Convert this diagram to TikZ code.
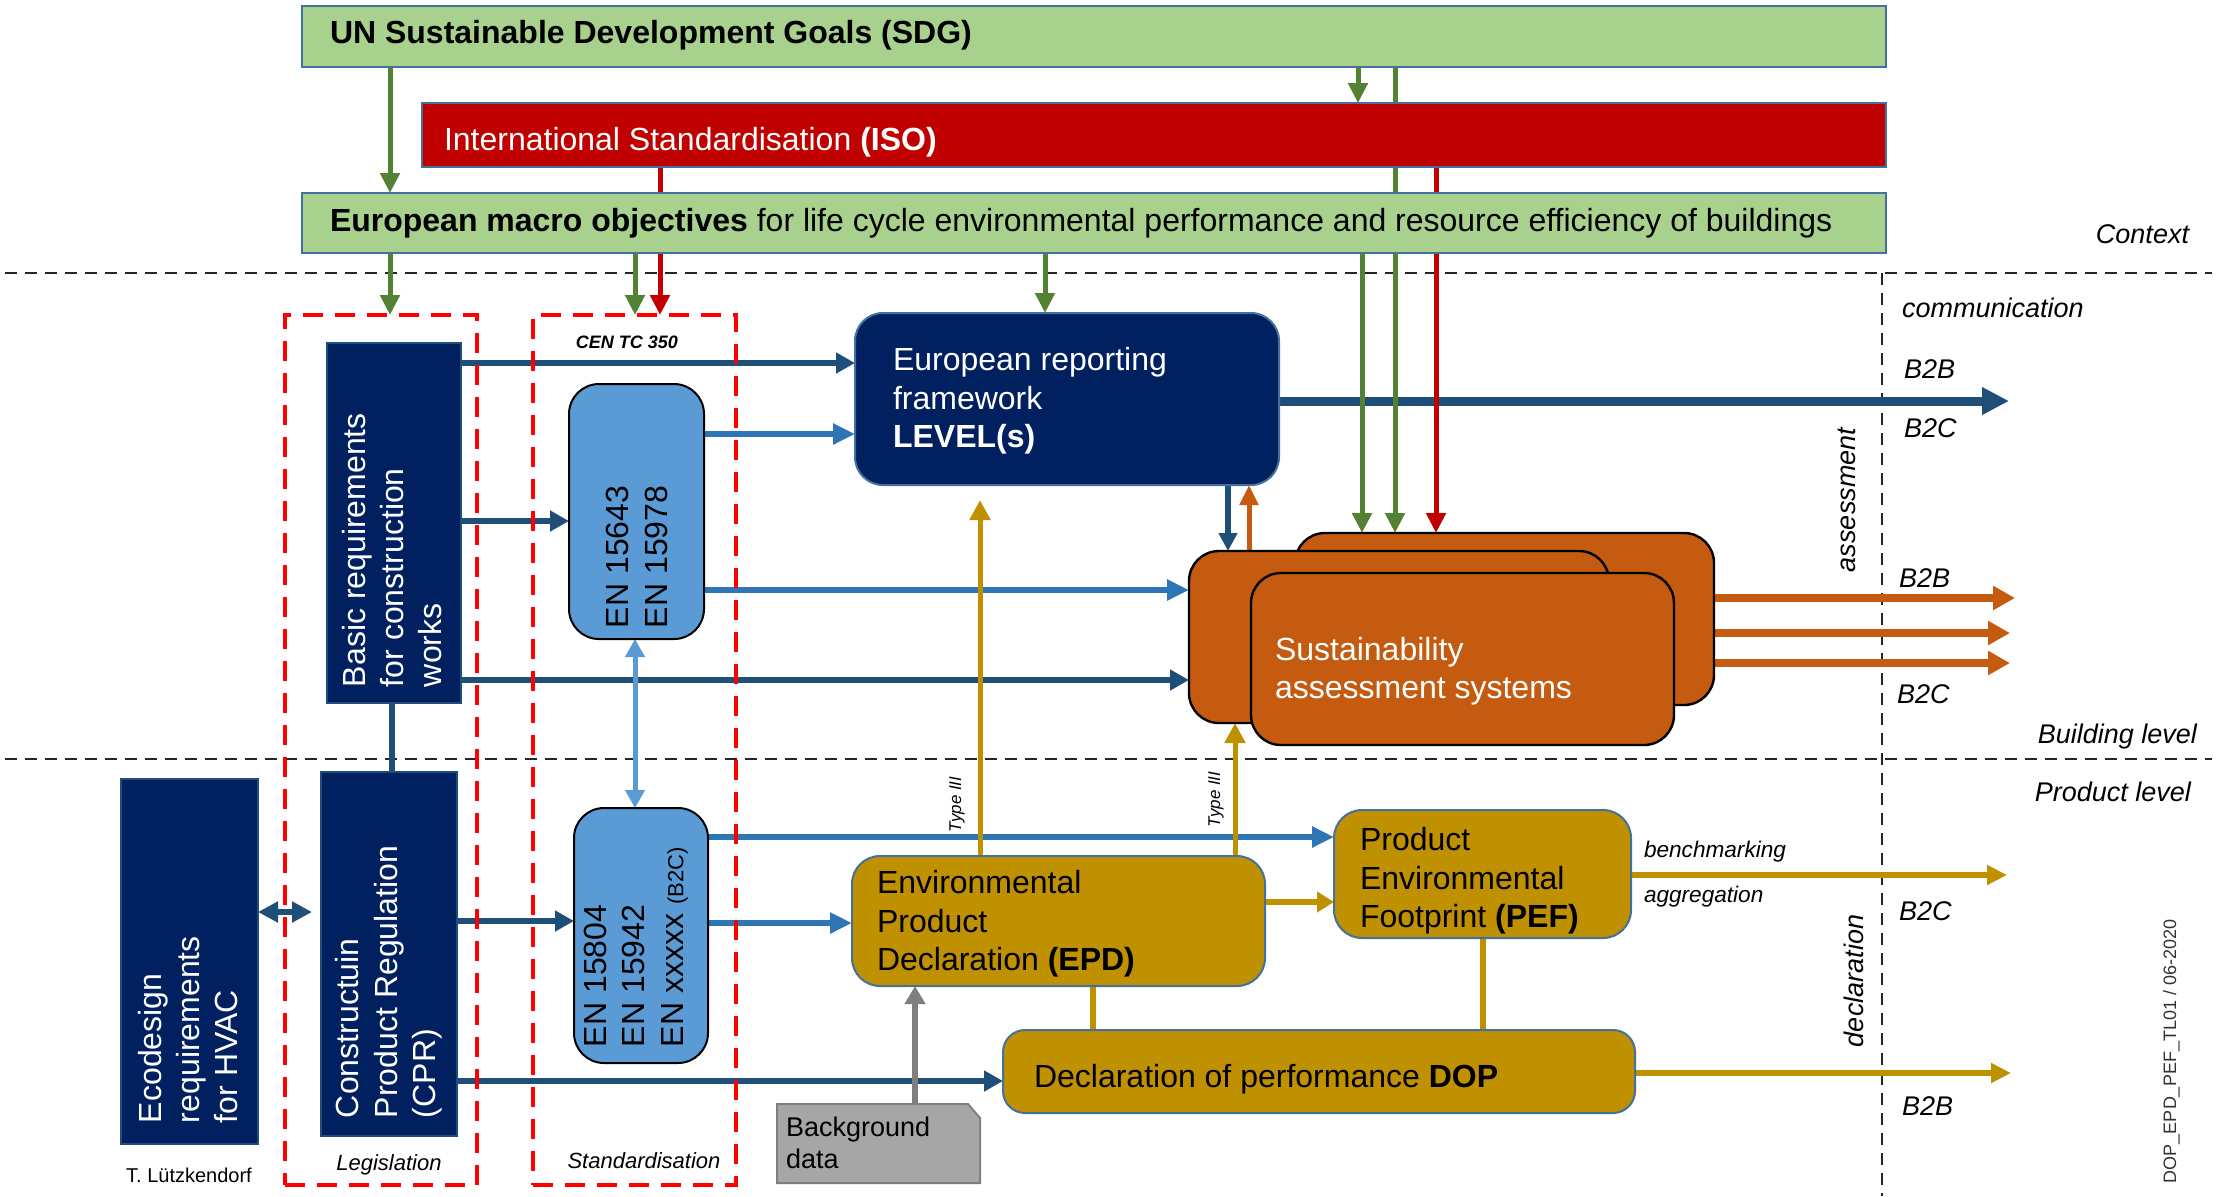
\documentclass[tikz,border=0pt]{standalone}
\usepackage{fontspec}
\setmainfont{Liberation Sans}
\usetikzlibrary{arrows.meta,fit,calc}
\definecolor{sdggreen}{HTML}{A9D18E}
\definecolor{boxborder}{HTML}{41719C}
\definecolor{isored}{HTML}{C00000}
\definecolor{arrgreen}{HTML}{548235}
\definecolor{arrred}{HTML}{C00000}
\definecolor{navybox}{HTML}{002060}
\definecolor{navyline}{HTML}{1F4E79}
\definecolor{lblue}{HTML}{5B9BD5}
\definecolor{mblue}{HTML}{2E75B6}
\definecolor{sasorange}{HTML}{C55A11}
\definecolor{goldbox}{HTML}{BF9000}
\definecolor{bggray}{HTML}{A6A6A6}
\definecolor{arrgray}{HTML}{7F7F7F}
\definecolor{dashred}{HTML}{FF0000}
\newcommand\fmain{\fontsize{16}{19.2}\selectfont}
\newcommand\flab{\fontsize{13.5}{16}\selectfont\itshape}
\pgfdeclarelayer{bg}
\pgfsetlayers{bg,main}
\tikzset{
  area/.style={inner sep=0pt, outer sep=0pt},
  greenbox/.style={area, fill=sdggreen, draw=boxborder, line width=1pt},
  redbox/.style={area, fill=isored, draw=boxborder, line width=1pt},
  navyrect/.style={area, fill=navybox, draw=navyline, line width=0.6pt},
  navyround/.style={area, fill=navybox, draw=boxborder, line width=1pt, rounded corners=14pt},
  enbox/.style={area, fill=lblue, draw=black, line width=1pt, rounded corners=15pt},
  sasbox/.style={area, fill=sasorange, draw=black, line width=1.2pt, rounded corners=15pt},
  goldround/.style={area, fill=goldbox, draw=boxborder, line width=1pt, rounded corners=14pt},
  groupbox/.style={area, draw=dashred, line width=2pt, dash pattern=on 10pt off 6pt},
  divider/.style={draw=black!85, line width=1pt, dash pattern=on 6pt off 4pt},
  txt/.style={inner sep=0pt, outer sep=0pt, font=\fmain},
  lab/.style={inner sep=0pt, outer sep=0pt, font=\flab},
  garr/.style={draw=arrgreen, line width=2.5pt, -{Triangle[length=10pt,width=9.5pt]}},
  rline/.style={draw=arrred, line width=2.5pt},
  rarr/.style={draw=arrred, line width=2.5pt, -{Triangle[length=10pt,width=9.5pt]}},
  navyarr/.style={draw=navyline, line width=3pt, -{Triangle[length=9.5pt,width=10pt]}},
  navyconn/.style={draw=navyline, line width=3pt},
  bluearr/.style={draw=mblue, line width=3pt, -{Triangle[length=11pt,width=10pt]}},
  dblblue/.style={draw=lblue, line width=2.5pt, {Triangle[length=9pt,width=9.5pt]}-{Triangle[length=9pt,width=9.5pt]}},
  dblnavy/.style={draw=navyline, line width=3pt, {Triangle[length=10pt,width=10pt]}-{Triangle[length=10pt,width=10pt]}},
  bigarr/.style={draw=navyline, line width=4.5pt, -{Triangle[length=13.5pt,width=13pt]}},
  smallnavy/.style={draw=navyline, line width=3pt, -{Triangle[length=9pt,width=9pt]}},
  smallorange/.style={draw=sasorange, line width=2.5pt, -{Triangle[length=10pt,width=9pt]}},
  orarr/.style={draw=sasorange, line width=4pt, -{Triangle[length=11pt,width=11.5pt]}},
  goldarr/.style={draw=goldbox, line width=2.5pt, -{Triangle[length=10pt,width=10pt]}},
  goldmid/.style={draw=goldbox, line width=3pt, -{Triangle[length=8.5pt,width=10pt]}},
  goldline/.style={draw=goldbox, line width=3pt},
  goldbig/.style={draw=goldbox, line width=3pt, -{Triangle[length=10pt,width=9.5pt]}},
  grayarr/.style={draw=arrgray, line width=3pt, -{Triangle[length=9pt,width=10pt]}},
}
\begin{document}
\begin{tikzpicture}[x=0.5pt,y=-0.5pt]
\useasboundingbox (0,0) rectangle (2216,1196);
\begin{pgfonlayer}{bg}
  \fill[white] (0,0) rectangle (2216,1196);
\end{pgfonlayer}
% level dividers
\coordinate (d1l) at (5,273); \coordinate (d1r) at (2212,273);
\coordinate (d2l) at (5,759); \coordinate (d2r) at (2212,759);
\coordinate (vtop) at (1882,273); \coordinate (vbot) at (1882,1196);
\begin{pgfonlayer}{bg}
  \draw[divider] (d1l) -- (d1r);
  \draw[divider] (d2l) -- (d2r);
  \draw[divider] (vtop) -- (vbot);
\end{pgfonlayer}

% boxes
\node[greenbox, fit={(302,6)(1886,67)}] (sdg) {};
\node[redbox, fit={(422,103)(1886,167)}] (iso) {};
\node[greenbox, fit={(302,193)(1886,253)}] (macro) {};
\node[groupbox, fit={(285,315)(477,1185)}] (leg) {};
\node[groupbox, fit={(533,315)(736,1185)}] (std) {};
\node[navyrect, fit={(327,343)(461,703)}] (basic) {};
\node[enbox, fit={(569,384)(704,639)}] (en1) {};
\node[navyround, fit={(855,313)(1279,485)}] (erf) {};
\node[sasbox, fit={(1295,533)(1714,705)}] (sasB) {};
\node[sasbox, fit={(1189,551)(1609,723)}] (sasM) {};
\node[sasbox, fit={(1251,573)(1674,745)}] (sasF) {};
\node[navyrect, fit={(121,779)(258,1144)}] (eco) {};
\node[navyrect, fit={(321,772)(457,1136)}] (cpr) {};
\node[enbox, fit={(574,808)(708,1063)}] (en2) {};
\node[goldround, fit={(852,856)(1265,986)}] (epd) {};
\node[goldround, fit={(1334,810)(1631,938)}] (pef) {};
\node[goldround, rounded corners=11pt, fit={(1003,1030)(1635,1113)}] (dop) {};
\node[area, fit={(777,1104)(980,1183)}] (bgd) {};
\draw[fill=bggray, draw=arrgray, line width=1pt] (bgd.south west) -- (bgd.north west) -- ([xshift=-6pt]bgd.north east) -- ([yshift=-7pt]bgd.north east) -- (bgd.south east) -- cycle;

% box texts
\node[txt, anchor=base west, font=\fmain\bfseries] (sdgt) at (330,43) {UN Sustainable Development Goals (SDG)};
\node[txt, anchor=base west, text=white] (isot) at (444,150) {International Standardisation \textbf{(ISO)}};
\node[txt, anchor=base west] (macrot) at (330,231) {\textbf{European macro objectives} for life cycle environmental performance and resource efficiency of buildings};
\node[txt, anchor=west, align=left, text=white] (erft) at (893,401) {European reporting\\framework\\\textbf{LEVEL(s)}};
\node[txt, anchor=west, align=left, text=white] (sast) at (1275,671) {Sustainability\\assessment systems};
\node[txt, rotate=90, anchor=west, align=left, text=white] (basict) at (392,687) {Basic requirements\\for construction\\works};
\node[txt, rotate=90, anchor=west, align=left] (en1t) at (637,628) {EN 15643\\EN 15978};
\node[txt, rotate=90, anchor=west, align=left, text=white] (ecot) at (188,1123) {Ecodesign\\requirements\\for HVAC};
\node[txt, rotate=90, anchor=west, align=left, text=white] (cprt) at (389,1118) {Constructuin\\Product Regulation\\(CPR)};
\node[txt, rotate=90, anchor=west, align=left] (en2t) at (636,1047) {EN 15804\\EN 15942\\EN xxxxx {\fontsize{11}{13}\selectfont (B2C)}};
\node[txt, anchor=west, align=left] (epdt) at (877,924) {Environmental\\Product\\Declaration \textbf{(EPD)}};
\node[txt, anchor=west, align=left] (peft) at (1360,881) {Product\\Environmental\\Footprint \textbf{(PEF)}};
\node[txt, anchor=base west] (dopt) at (1034,1087) {Declaration of performance \textbf{DOP}};
\node[txt, anchor=west, align=left, font=\fontsize{13.5}{16}\selectfont] (bgdt) at (786,1143) {Background\\data};

% side labels
\node[lab, anchor=base east] (ctx) at (2189,243) {Context};
\node[lab, anchor=base west] (comm) at (1902,317) {communication};
\node[lab, anchor=base west] (b2b1) at (1904,378) {B2B};
\node[lab, anchor=base west] (b2c1) at (1904,437) {B2C};
\node[lab, rotate=90, anchor=base west] (assess) at (1855,572) {assessment};
\node[lab, anchor=base west] (b2b2) at (1899,587) {B2B};
\node[lab, anchor=base west] (b2c2) at (1897,703) {B2C};
\node[lab, anchor=base east] (bldg) at (2197,743) {Building level};
\node[lab, anchor=base east] (prod) at (2191,801) {Product level};
\node[lab, anchor=base west, font=\fontsize{11.3}{13}\selectfont\itshape] (bench) at (1644,857) {benchmarking};
\node[lab, anchor=base west, font=\fontsize{11.3}{13}\selectfont\itshape] (aggr) at (1644,902) {aggregation};
\node[lab, anchor=base west] (b2c3) at (1899,920) {B2C};
\node[lab, rotate=90, anchor=base west] (decl) at (1863,1047) {declaration};
\node[lab, anchor=base west] (b2b3) at (1902,1115) {B2B};
\node[lab, rotate=90, anchor=base west, font=\fontsize{9}{11}\selectfont, text=black!80] (code) at (2176,1183) {DOP\_EPD\_PEF\_TL01 / 06-2020};
\node[lab, anchor=base, font=\fontsize{9}{11}\selectfont\bfseries\itshape] (cen) at (627,348) {CEN TC 350};
\node[lab, anchor=base, font=\fontsize{11}{13}\selectfont\itshape] (legt) at (389,1170) {Legislation};
\node[lab, anchor=base, font=\fontsize{11}{13}\selectfont\itshape] (stdt) at (644,1168) {Standardisation};
\node[lab, anchor=base, font=\fontsize{10}{12}\selectfont] (author) at (189,1182) {T. Lützkendorf};
\node[lab, rotate=90, anchor=base west, font=\fontsize{8.5}{10}\selectfont\itshape] (type1) at (961,832) {Type III};
\node[lab, rotate=90, anchor=base west, font=\fontsize{8.5}{10}\selectfont\itshape] (type2) at (1220,827) {Type III};

% free ends
\coordinate (erfout) at (2009,401);
\coordinate (o1) at (2015,598);
\coordinate (o2) at (2010,633);
\coordinate (o3) at (2010,663);
\coordinate (pefout) at (2007,875);
\coordinate (dopout) at (2011,1073);

\begin{pgfonlayer}{bg}
% context arrows
\draw[garr] (390,0 |- sdg.south) -- (390,0 |- macro.north);
\draw[garr] (1358,0 |- sdg.south) -- (1358,0 |- iso.north);
\draw[rline] (660,0 |- iso.south) -- (660,0 |- macro.north);
\draw[garr] (390,0 |- macro.south) -- (390,0 |- leg.north);
\draw[garr] (635,0 |- macro.south) -- (635,0 |- std.north);
\draw[rarr] (660,0 |- macro.south) -- (660,0 |- std.north);
\draw[garr] (1045,0 |- macro.south) -- (1045,0 |- erf.north);
\draw[bigarr] (erf.east |- erfout) -- (erfout);
\draw[garr] (1395,0 |- sdg.south) -- (1395,0 |- sasB.north);
\draw[garr] (1362,0 |- macro.south) -- (1362,0 |- sasB.north);
\draw[rarr] (1436,0 |- iso.south) -- (1436,0 |- sasB.north);
% building level
\draw[navyarr] (basic.east |- 0,363) -- (erf.west |- 0,363);
\draw[navyarr] (basic.east |- 0,521) -- (en1.west |- 0,521);
\draw[navyarr] (basic.east |- 0,680) -- (sasM.west |- 0,680);
\draw[navyconn] (392,0 |- basic.south) -- (392,0 |- cpr.north);
\draw[bluearr] (en1.east |- 0,434) -- (erf.west |- 0,434);
\draw[bluearr] (en1.east |- 0,590) -- (sasM.west |- 0,590);
\draw[dblblue] (635,0 |- en1.south) -- (635,0 |- en2.north);
\draw[smallnavy] (1228,0 |- erf.south) -- (1228,0 |- sasM.north);
\draw[smallorange] (1249,0 |- sasM.north) -- (1249,0 |- erf.south);
\draw[orarr] (sasB.east |- o1) -- (o1);
\draw[orarr] (sasB.east |- o2) -- (o2);
\draw[orarr] (sasB.east |- o3) -- (o3);
% product level
\draw[dblnavy, shorten >=4.5pt] (eco.east |- 0,912) -- (cpr.west |- 0,912);
\draw[navyarr] (cpr.east |- 0,921) -- (en2.west |- 0,921);
\draw[navyarr] (cpr.east |- 0,1081) -- (dop.west |- 0,1081);
\draw[bluearr] (en2.east |- 0,837) -- (pef.west |- 0,837);
\draw[bluearr] (en2.east |- 0,923) -- (epd.west |- 0,923);
\draw[goldarr, shorten >=7.5pt] (980,0 |- epd.north) -- (980,0 |- erf.south);
\draw[goldarr] (1235,0 |- epd.north) -- (1235,0 |- sasM.south);
\draw[goldmid] (epd.east |- 0,902) -- (pef.west |- 0,902);
\draw[goldline] (1093,0 |- epd.south) -- (1093,0 |- dop.north);
\draw[goldline] (1483,0 |- pef.south) -- (1483,0 |- dop.north);
\draw[goldbig] (pef.east |- pefout) -- (pefout);
\draw[goldbig] (dop.east |- dopout) -- (dopout);
\draw[grayarr] (915,0 |- bgd.north) -- (915,0 |- epd.south);
\end{pgfonlayer}
\end{tikzpicture}
\end{document}
